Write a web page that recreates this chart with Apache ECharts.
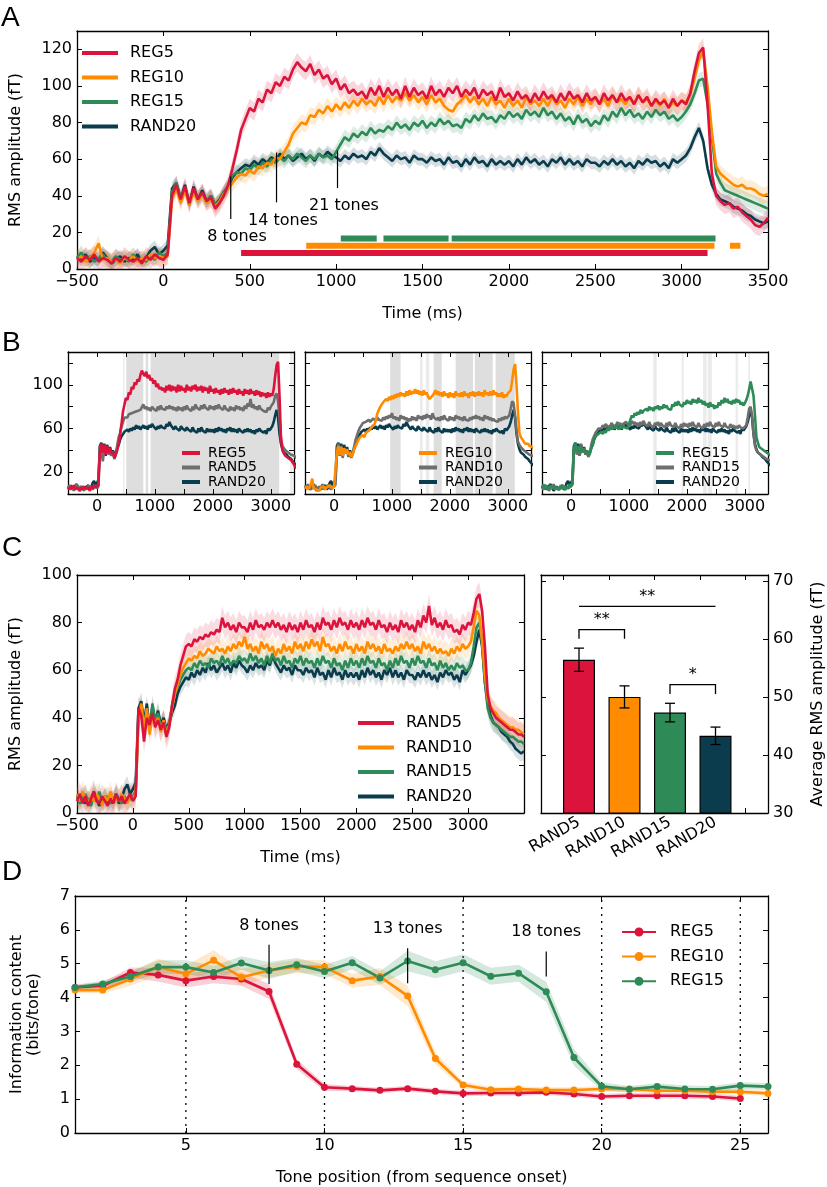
<!DOCTYPE html>
<html><head><meta charset="utf-8"><title>chart</title>
<script src="https://cdn.jsdelivr.net/npm/echarts@6.0.0/dist/echarts.min.js"></script>
<style>html,body{margin:0;padding:0;background:#fff;}#chart{width:827px;height:1187px;}</style>
</head><body><div id="chart"></div>
<script>
// ---------------- DATA ----------------
// time series sampled every 25 ms from -500 ms to 3500 ms (161 samples)
const T0 = -500, DT = 25;
const REG5 = [
 6,4,7,5,8,4,6,5,3,6,4,7,5,4,6,3,7,5,8,6,
 5,8,40,46,38,45,36,44,38,42,37,39,33,36,40,46,55,65,76,82,
 88,86,93,91,98,96,102,100,105,103,109,113,110,108,112,106,109,104,106,101,
 104,98,101,96,98,95,97,93,99,95,100,94,99,95,98,93,100,94,99,95,
 97,93,100,95,98,94,99,96,100,94,98,95,99,93,98,95,97,92,99,94,
 96,92,97,93,95,91,96,92,97,93,95,91,96,92,97,93,95,91,96,92,
 94,90,96,92,95,91,96,92,94,90,95,91,94,89,93,90,92,88,93,89,
 92,90,96,108,118,121,90,52,40,37,35,36,33,34,31,29,27,24,23,25,
 28];
const REG10 = [
 5,7,4,6,9,14,5,6,4,5,3,6,5,7,4,6,5,8,6,7,
 6,7,38,44,36,43,35,42,37,41,36,38,34,37,41,44,47,50,52,51,
 54,52,56,55,58,57,61,60,64,68,74,77,80,79,84,83,87,85,89,86,
 90,87,91,88,92,89,93,90,92,89,94,90,95,91,94,92,96,92,95,91,
 94,90,95,91,93,89,87,86,90,92,95,91,94,90,93,89,94,90,92,88,
 93,89,92,88,94,90,92,89,93,89,94,90,92,88,93,90,94,89,93,90,
 94,90,93,89,95,91,93,90,94,90,95,91,93,89,92,89,93,88,91,89,
 92,91,95,104,114,119,100,75,56,52,50,48,46,45,46,44,44,43,41,40,
 41];
const REG15 = [
 6,9,5,7,4,6,8,5,4,7,5,6,4,8,5,6,4,7,5,9,
 7,9,42,47,39,44,37,43,39,41,37,40,35,37,42,45,51,53,52,55,
 54,57,55,58,56,60,58,61,59,62,60,63,61,59,62,60,63,61,62,60,
 64,68,72,70,74,72,75,73,77,74,76,75,78,76,80,77,79,76,80,78,
 81,77,80,78,82,79,81,78,79,77,82,80,84,81,85,82,83,80,84,82,
 86,83,85,82,87,84,86,83,88,84,86,82,85,81,83,79,84,80,82,78,
 81,79,84,81,86,83,88,84,87,83,85,82,86,83,87,84,86,82,84,81,
 83,86,90,96,103,104,90,72,52,47,43,42,41,40,39,38,37,36,35,34,
 33];
const RAND20 = [
 7,5,8,4,6,5,9,6,3,5,7,4,6,5,8,4,6,10,12,8,
 10,13,44,47,38,46,35,45,38,43,37,40,35,38,42,45,50,53,55,57,
 56,59,57,60,58,61,59,63,60,62,59,61,63,60,62,59,63,61,64,62,
 61,59,62,60,63,61,62,60,64,62,66,63,61,59,62,60,61,58,62,60,
 60,58,61,59,60,57,61,58,59,56,60,57,61,58,59,56,60,57,59,57,
 59,56,60,57,61,58,60,57,59,56,60,58,61,57,60,57,59,56,60,58,
 58,56,59,57,60,57,59,56,58,55,59,57,60,58,59,56,58,55,60,58,
 60,62,66,72,77,70,55,46,41,38,37,36,34,33,32,30,29,27,26,25,
 26];
const RAND5 = [
 5,8,4,7,3,6,9,5,4,7,5,3,6,4,8,5,7,4,6,8,
 5,7,44,41,30,40,37,42,36,39,35,38,32,36,45,52,56,62,66,70,
 71,70,73,72,74,73,75,74,76,75,77,76,82,78,80,77,79,76,80,78,
 78,76,80,77,81,78,79,77,80,78,81,78,80,77,79,76,80,77,79,76,
 80,77,81,78,79,76,80,77,82,79,80,77,81,78,82,79,80,77,81,78,
 80,77,81,78,82,79,80,77,81,78,79,76,80,77,79,76,81,78,80,77,
 79,76,81,78,83,80,87,79,82,78,80,77,81,78,79,76,77,75,79,77,
 80,79,84,90,92,85,70,50,44,42,40,39,38,37,36,35,35,34,33,33,
 32];
const RAND10 = [
 8,5,9,6,4,7,5,8,6,3,7,5,9,4,6,5,8,6,4,7,
 6,8,38,46,35,44,33,41,37,40,34,39,33,37,44,50,54,58,61,63,
 65,64,66,65,68,66,67,69,68,67,70,68,69,67,70,68,71,69,72,70,
 74,69,71,68,70,67,72,69,71,68,70,66,69,67,71,68,70,67,72,69,
 71,68,72,69,73,70,72,68,74,70,71,68,70,67,71,68,72,69,70,67,
 71,68,70,67,72,69,71,68,70,67,71,68,69,67,70,68,71,69,72,69,
 71,68,70,67,72,69,71,68,70,67,69,67,68,66,69,67,70,68,71,69,
 70,72,78,85,83,72,58,48,45,43,42,40,39,38,37,36,36,35,35,34,
 33];
const RAND15 = [
 7,4,6,8,5,3,7,5,9,4,6,7,4,5,8,6,4,7,5,6,
 7,9,40,45,36,43,35,46,38,42,36,39,34,37,45,50,53,56,58,60,
 61,60,63,61,64,62,63,61,65,63,64,62,66,63,65,62,64,63,66,64,
 65,63,67,64,66,63,65,62,66,63,67,64,65,62,66,63,64,61,65,63,
 66,62,65,63,64,61,65,62,66,63,64,61,65,62,63,60,64,61,65,62,
 64,61,65,62,66,63,64,61,65,62,63,60,64,61,65,62,66,63,64,61,
 65,62,66,63,64,61,65,62,63,60,64,61,63,60,62,60,63,61,62,60,
 60,63,70,78,80,72,55,44,40,38,37,36,35,34,33,32,32,31,30,30,
 29];
// error band half-widths (fT), read from the shaded areas
const SEM = {REG5:5, REG10:4.5, REG15:4, RAND20:3.5, RAND5:5, RAND10:4.5, RAND15:4};

// panel A: significance bars [start ms, end ms] and tone markers
const A_SIG = [
  {name:'REG15', level:16.7, segs:[[1027,1235],[1274,1651],[1669,3196]]},
  {name:'REG10', level:12.7, segs:[[827,3190],[3280,3340]]},
  {name:'REG5',  level:8.7,  segs:[[450,3150]]}
];
const A_TONES = [
  {text:'8 tones',  t:390,  y0:27.3, y1:50.5, tt:426,  ty:17.6},
  {text:'14 tones', t:655,  y0:36.4, y1:63.6, tt:692,  ty:26.5},
  {text:'21 tones', t:1008, y0:44.2, y1:64.7, tt:1045, ty:34.7}
];
// panel B: shaded significance spans [start ms, end ms, shade]
const B_SPANS = [
  [[450,475,1],[505,800,0],[840,885,0],[925,3145,0],[3335,3375,1]],
  [[970,1150,0],[1485,1530,1],[1585,1645,1],[1720,1860,0],[2100,2400,0],[2430,2740,0],[2790,3120,0]],
  [[1420,1480,1],[1910,1945,1],[2280,2340,1],[2360,2430,1],[2840,2880,1],[3060,3090,1]]
];
// panel C bars
const BAR_CATS = ['RAND5','RAND10','RAND15','RAND20'];
const BAR_VALS = [56.4, 50.0, 47.3, 43.3];
const BAR_ERR  = [2.0, 1.9, 1.6, 1.5];
const BAR_SIG = [
  {from:0, to:3, y:65.6, leg:null, text:'**'},
  {from:0, to:1, y:61.6, leg:60.0, text:'**'},
  {from:2, to:3, y:52.1, leg:50.5, text:'*'}
];
// panel D
const D_POS = [1,2,3,4,5,6,7,8,9,10,11,12,13,14,15,16,17,18,19,20,21,22,23,24,25,26];
const D_REG5  = [4.30,4.35,4.74,4.67,4.50,4.62,4.55,4.18,2.03,1.35,1.31,1.26,1.31,1.23,1.17,1.18,1.18,1.20,1.15,1.08,1.10,1.10,1.10,1.08,1.02];
const D_REG10 = [4.22,4.22,4.55,4.90,4.70,5.10,4.60,4.80,4.92,4.90,4.50,4.62,4.05,2.20,1.42,1.28,1.30,1.27,1.27,1.30,1.30,1.25,1.25,1.22,1.22,1.17];
const D_REG15 = [4.30,4.40,4.62,4.90,4.90,4.74,5.02,4.80,4.97,4.77,5.03,4.58,5.08,4.82,5.03,4.63,4.72,4.17,2.23,1.38,1.29,1.37,1.30,1.29,1.40,1.37];
const D_ERR5  = [0.08,0.1,0.15,0.2,0.2,0.2,0.2,0.22,0.15,0.1,0.08,0.08,0.08,0.08,0.08,0.08,0.08,0.08,0.08,0.08,0.08,0.08,0.08,0.08,0.08];
const D_ERR10 = [0.08,0.1,0.2,0.25,0.25,0.3,0.25,0.2,0.2,0.2,0.2,0.25,0.3,0.18,0.1,0.08,0.08,0.08,0.08,0.08,0.08,0.08,0.08,0.08,0.08,0.08];
const D_ERR15 = [0.08,0.1,0.15,0.2,0.2,0.2,0.2,0.25,0.2,0.2,0.2,0.2,0.3,0.25,0.25,0.25,0.25,0.3,0.25,0.12,0.1,0.1,0.1,0.1,0.1,0.1];
const D_VLINES = [5,10,15,20,25];
const D_TONES = [
  {text:'8 tones',  x:8,  y0:4.40, y1:5.56, ty:6.12},
  {text:'13 tones', x:13, y0:4.42, y1:5.46, ty:6.03},
  {text:'18 tones', x:18, y0:4.62, y1:5.36, ty:5.93}
];
// tick values
const A_XTICKS = [-500,0,500,1000,1500,2000,2500,3000,3500];
const A_YTICKS = [0,20,40,60,80,100,120];
const B_XTICKS = [-500,0,500,1000,1500,2000,2500,3000];
const B_XLABELS = [0,1000,2000,3000];
const B_YTICKS = [20,40,60,80,100,120];
const B_YLABELS = [20,60,100];
const C_XTICKS = [-500,0,500,1000,1500,2000,2500,3000];
const C_YTICKS = [0,20,40,60,80,100];
const BAR_YTICKS = [30,40,50,60,70];
const BAR_XTICKS = [0,1,2,3,4];
const D_XTICKS = [5,10,15,20,25];
const D_YTICKS = [0,1,2,3,4,5,6,7];

const TIMES = REG5.map((_, i) => T0 + i * DT);

// ---------------- STYLE / BUILD ----------------
const COL = {REG5:'#dc143c', REG10:'#ff8c00', REG15:'#2e8b57', RAND20:'#0b3c4d',
             RAND5:'#dc143c', RAND10:'#ff8c00', RAND15:'#2e8b57', gray:'#6e6e6e'};
const FONT = 'DejaVu Sans';
const nameStyle = {color:'#000', fontFamily:FONT, fontSize:16};
const grids=[], xAxes=[], yAxes=[], series=[], legends=[];
function fmt(v){ return v<0 ? '\u2212'+Math.abs(v) : String(v); }
function grid(l,t,w,h){ grids.push({left:l,top:t,width:w,height:h,show:false}); return grids.length-1; }
function vAxis(g,pos,min,max,ticks,labels,extra){
  const ax = {type:'value', gridIndex:g, position:pos, min:min, max:max,
    axisLine:{show:true, onZero:false, lineStyle:{color:'#000', width:1.3}},
    axisTick:{show:true, inside:true, length:5, lineStyle:{color:'#000', width:1}, customValues:ticks},
    axisLabel: labels ? {show:true, customValues:labels, margin:5, color:'#000', fontFamily:FONT, fontSize:16, formatter:fmt} : {show:false},
    splitLine:{show:false}};
  return Object.assign(ax, extra||{});
}
function addX(a){ xAxes.push(a); return xAxes.length-1; }
function addY(a){ yAxes.push(a); return yAxes.length-1; }
function band(xi,yi,xs,vals,errs,color,alpha){
  return {type:'custom', xAxisIndex:xi, yAxisIndex:yi, clip:true, silent:true, z:1,
    data:[[xs[0], vals[0]]],
    renderItem:(p,api)=>{
      const up=[], lo=[];
      for(let i=0;i<vals.length;i++){
        const e = Array.isArray(errs)?errs[i]:errs;
        up.push(api.coord([xs[i], vals[i]+e])); lo.push(api.coord([xs[i], vals[i]-e]));
      }
      return {type:'polygon', shape:{points:up.concat(lo.reverse())}, style:{fill:color, opacity:alpha}};
    }};
}
function line(name,xi,yi,vals,color,w){
  return {type:'line', name:name, xAxisIndex:xi, yAxisIndex:yi, data:vals.map((v,i)=>[TIMES[i],v]),
    showSymbol:false, symbol:'none', lineStyle:{color:color, width:w}, itemStyle:{color:color}, clip:true, silent:true, z:3};
}
function legend(names, colors, left, top, o){
  legends.push(Object.assign({show:true, orient:'vertical', left:left, top:top, padding:0, selectedMode:false,
    icon:'rect', itemWidth:36, itemHeight:4, itemGap:8.5,
    textStyle:{color:'#000', fontFamily:FONT, fontSize:16, lineHeight:16, padding:[0,0,0,7]},
    data:names.map((n,i)=>({name:n, itemStyle:{color:colors[i]}, lineStyle:{color:colors[i]}}))}, o||{}));
}

// ----- Panel A -----
const gA = grid(68,31,700,238);
const xA = addX(vAxis(gA,'bottom',-500,3500,A_XTICKS,A_XTICKS,{name:'Time (ms)',nameLocation:'middle',nameGap:37,nameTextStyle:nameStyle}));
addX(vAxis(gA,'top',-500,3500,A_XTICKS,null));
const yA = addY(vAxis(gA,'left',0,130,A_YTICKS,A_YTICKS,{name:'RMS amplitude (fT)',nameLocation:'middle',nameGap:53,nameRotate:90,nameTextStyle:nameStyle}));
addY(vAxis(gA,'right',0,130,A_YTICKS,null));
const A_LIST = [['RAND20',RAND20],['REG15',REG15],['REG10',REG10],['REG5',REG5]];
A_LIST.forEach(([n,v])=>series.push(band(xA,yA,TIMES,v,SEM[n],COL[n],0.17)));
A_LIST.forEach(([n,v])=>series.push(line(n,xA,yA,v,COL[n],2.6)));
const sigData=[];
A_SIG.forEach(s=>s.segs.forEach(sg=>sigData.push([sg[0],s.level,sg[1],COL[s.name]])));
series.push({type:'custom', xAxisIndex:xA, yAxisIndex:yA, silent:true, z:4,
  data:sigData.map(d=>[d[0],d[1],d[2]]),
  renderItem:(p,api)=>{
    const a=api.coord([api.value(0),api.value(1)]), b=api.coord([api.value(2),api.value(1)]);
    return {type:'rect', shape:{x:a[0], y:a[1]-3, width:b[0]-a[0], height:6}, style:{fill:sigData[p.dataIndex][3]}};
  }});
series.push({type:'custom', xAxisIndex:xA, yAxisIndex:yA, silent:true, z:5,
  data:A_TONES.map(d=>[d.t,d.y0,d.y1,d.tt,d.ty]),
  renderItem:(p,api)=>{
    const a=api.coord([api.value(0),api.value(1)]), b=api.coord([api.value(0),api.value(2)]);
    const c=api.coord([api.value(3),api.value(4)]);
    return {type:'group', children:[
      {type:'line', shape:{x1:a[0],y1:a[1],x2:b[0],y2:b[1]}, style:{stroke:'#000', lineWidth:1.2}},
      {type:'text', x:c[0], y:c[1], style:{text:A_TONES[p.dataIndex].text, fill:'#000', font:'16px "DejaVu Sans"', textAlign:'center', textVerticalAlign:'middle'}}
    ]};
  }});
legend(['REG5','REG10','REG15','RAND20'],[COL.REG5,COL.REG10,COL.REG15,COL.RAND20],82,45);

// ----- Panel B -----
const B_LEFT=[68,305,542];
const B_SETS=[['REG5','RAND5',REG5,RAND5],['REG10','RAND10',REG10,RAND10],['REG15','RAND15',REG15,RAND15]];
B_SETS.forEach((s,k)=>{
  const g=grid(B_LEFT[k],352,226,142);
  const xi=addX(vAxis(g,'bottom',-500,3400,B_XTICKS,B_XLABELS));
  addX(vAxis(g,'top',-500,3400,B_XTICKS,null));
  const yi=addY(vAxis(g,'left',0,130,B_YTICKS,k===0?B_YLABELS:null));
  addY(vAxis(g,'right',0,130,B_YTICKS,null));
  const spans=B_SPANS[k];
  series.push({type:'custom', xAxisIndex:xi, yAxisIndex:yi, silent:true, clip:true, z:0,
    data:spans.map(sp=>[sp[0],sp[1],sp[2]]),
    renderItem:(p,api)=>{
      const a=api.coord([api.value(0),130]), b=api.coord([api.value(1),0]);
      return {type:'rect', shape:{x:a[0],y:a[1],width:b[0]-a[0],height:b[1]-a[1]}, style:{fill: api.value(2)?'#ebebeb':'#dedede'}};
    }});
  series.push(line('RAND20',xi,yi,RAND20,COL.RAND20,2.6));
  series.push(line(s[1],xi,yi,s[3],COL.gray,2.6));
  series.push(line(s[0],xi,yi,s[2],COL[s[0]],2.6));
  legend([s[0],s[1],'RAND20'],[COL[s[0]],COL.gray,COL.RAND20],B_LEFT[k]+114,446,
    {itemWidth:18, itemHeight:4, itemGap:0.5, textStyle:{color:'#000',fontFamily:FONT,fontSize:14,lineHeight:14,padding:[0,0,0,3]}});
});

// ----- Panel C (lines) -----
const gC=grid(68,575,456,238);
const xC=addX(vAxis(gC,'bottom',-500,3500,C_XTICKS,C_XTICKS,{name:'Time (ms)',nameLocation:'middle',nameGap:37,nameTextStyle:nameStyle}));
addX(vAxis(gC,'top',-500,3500,C_XTICKS,null));
const yC=addY(vAxis(gC,'left',0,100,C_YTICKS,C_YTICKS,{name:'RMS amplitude (fT)',nameLocation:'middle',nameGap:53,nameRotate:90,nameTextStyle:nameStyle}));
addY(vAxis(gC,'right',0,100,C_YTICKS,null));
const C_LIST=[['RAND20',RAND20],['RAND15',RAND15],['RAND10',RAND10],['RAND5',RAND5]];
C_LIST.forEach(([n,v])=>series.push(band(xC,yC,TIMES,v,SEM[n],COL[n],0.15)));
C_LIST.forEach(([n,v])=>series.push(line(n,xC,yC,v,COL[n],2.6)));
legend(['RAND5','RAND10','RAND15','RAND20'],[COL.RAND5,COL.RAND10,COL.RAND15,COL.RAND20],358,715);

// ----- Panel C (bars) -----
const gF=grid(541,575,227,238);
addX(vAxis(gF,'bottom',-0.5,4.5,BAR_XTICKS,null));
addX(vAxis(gF,'top',-0.5,4.5,BAR_XTICKS,null));
addY(vAxis(gF,'left',30,71,BAR_YTICKS,null));
addY(vAxis(gF,'right',30,71,BAR_YTICKS,BAR_YTICKS,{name:'Average RMS amplitude (fT)',nameLocation:'middle',nameGap:42,nameRotate:90,nameTextStyle:nameStyle}));
const gBI=grid(556.25,575,182,238);
const xBI=addX({type:'category', gridIndex:gBI, data:BAR_CATS, position:'bottom',
  axisLine:{show:false}, axisTick:{show:false},
  axisLabel:{rotate:30, margin:8, interval:0, color:'#000', fontFamily:FONT, fontSize:16}});
const yBI=addY({type:'value', gridIndex:gBI, min:30, max:71, show:false});
const BAR_COLORS=[COL.RAND5,COL.RAND10,COL.RAND15,COL.RAND20];
series.push({type:'bar', xAxisIndex:xBI, yAxisIndex:yBI, barWidth:32, clip:true, silent:true, z:2,
  data:BAR_VALS.map((v,i)=>({value:v, itemStyle:{color:BAR_COLORS[i], borderColor:'#000', borderWidth:1.2}}))});
series.push({type:'custom', xAxisIndex:xBI, yAxisIndex:yBI, silent:true, z:5,
  data:BAR_VALS.map((v,i)=>[i, v-BAR_ERR[i], v+BAR_ERR[i]]),
  renderItem:(p,api)=>{
    const lo=api.coord([api.value(0),api.value(1)]), hi=api.coord([api.value(0),api.value(2)]);
    const st={stroke:'#000', lineWidth:1.3};
    return {type:'group', children:[
      {type:'line', shape:{x1:lo[0],y1:lo[1],x2:hi[0],y2:hi[1]}, style:st},
      {type:'line', shape:{x1:lo[0]-5,y1:lo[1],x2:lo[0]+5,y2:lo[1]}, style:st},
      {type:'line', shape:{x1:hi[0]-5,y1:hi[1],x2:hi[0]+5,y2:hi[1]}, style:st}
    ]};
  }});
series.push({type:'custom', xAxisIndex:xBI, yAxisIndex:yBI, silent:true, z:5,
  data:BAR_SIG.map(s=>[s.from, s.y, s.to, s.leg==null?s.y:s.leg]),
  renderItem:(p,api)=>{
    const a=api.coord([api.value(0),api.value(1)]), b=api.coord([api.value(2),api.value(1)]);
    const la=api.coord([api.value(0),api.value(3)]), lb=api.coord([api.value(2),api.value(3)]);
    const st={stroke:'#000', lineWidth:1.3, fill:null};
    return {type:'group', children:[
      {type:'polyline', shape:{points:[[la[0],la[1]],[a[0],a[1]],[b[0],b[1]],[lb[0],lb[1]]]}, style:st},
      {type:'text', x:(a[0]+b[0])/2, y:a[1]-2, style:{text:BAR_SIG[p.dataIndex].text, fill:'#000', font:'16px "DejaVu Sans"', textAlign:'center', textVerticalAlign:'bottom'}}
    ]};
  }});

// ----- Panel D -----
const gD=grid(68,896,700,239);
const xD=addX(vAxis(gD,'bottom',1,26,D_XTICKS,D_XTICKS,{name:'Tone position (from sequence onset)',nameLocation:'middle',nameGap:37,nameTextStyle:nameStyle}));
addX(vAxis(gD,'top',1,26,D_XTICKS,null));
const yD=addY(vAxis(gD,'left',0,7,D_YTICKS,D_YTICKS,{name:'Information content\n(bits/tone)',nameLocation:'middle',nameGap:33,nameRotate:90,nameTextStyle:Object.assign({lineHeight:17},nameStyle)}));
addY(vAxis(gD,'right',0,7,D_YTICKS,null));
series.push({type:'custom', xAxisIndex:xD, yAxisIndex:yD, silent:true, z:1,
  data:D_VLINES.map(x=>[x,0]),
  renderItem:(p,api)=>{
    const a=api.coord([api.value(0),0]), b=api.coord([api.value(0),7]);
    return {type:'line', shape:{x1:a[0],y1:a[1],x2:b[0],y2:b[1]}, style:{stroke:'#000', lineWidth:1.3, lineDash:[2,5]}};
  }});
const D_LIST=[['REG5',D_REG5,D_ERR5],['REG10',D_REG10,D_ERR10],['REG15',D_REG15,D_ERR15]];
D_LIST.forEach(([n,v,e])=>series.push(band(xD,yD,D_POS,v,e,COL[n],0.2)));
D_LIST.forEach(([n,v])=>series.push({type:'line', name:n, xAxisIndex:xD, yAxisIndex:yD,
  data:v.map((y,i)=>[D_POS[i],y]), symbol:'circle', symbolSize:7, showSymbol:true,
  lineStyle:{color:COL[n], width:2.6}, itemStyle:{color:COL[n]}, silent:true, z:4}));
series.push({type:'custom', xAxisIndex:xD, yAxisIndex:yD, silent:true, z:5,
  data:D_TONES.map(d=>[d.x,d.y0,d.y1,d.ty]),
  renderItem:(p,api)=>{
    const a=api.coord([api.value(0),api.value(1)]), b=api.coord([api.value(0),api.value(2)]);
    const c=api.coord([api.value(0),api.value(3)]);
    return {type:'group', children:[
      {type:'line', shape:{x1:a[0],y1:a[1],x2:b[0],y2:b[1]}, style:{stroke:'#000', lineWidth:1.2}},
      {type:'text', x:c[0], y:c[1], style:{text:D_TONES[p.dataIndex].text, fill:'#000', font:'16px "DejaVu Sans"', textAlign:'center', textVerticalAlign:'middle'}}
    ]};
  }});
legend(['REG5','REG10','REG15'],[COL.REG5,COL.REG10,COL.REG15],622,924,
  {icon:'path://M0,4 L34,4 L34,6 L0,6 Z M12.5,5 A4.5,4.5 0 1,1 21.5,5 A4.5,4.5 0 1,1 12.5,5 Z', itemWidth:34, itemHeight:9, itemGap:8.6, textStyle:{color:'#000',fontFamily:FONT,fontSize:16,lineHeight:16,padding:[0,0,0,9]}});

// ---------------- CHART ----------------
const chart = echarts.init(document.getElementById('chart'), null, {renderer:'canvas'});
chart.setOption({
  backgroundColor:'#fff', animation:false,
  textStyle:{fontFamily:FONT},
  grid:grids, xAxis:xAxes, yAxis:yAxes, series:series, legend:legends,
  graphic:[
    {type:'text', left:1, top:4, style:{text:'A', font:'28px "Liberation Sans"', fill:'#000'}},
    {type:'text', left:2, top:329, style:{text:'B', font:'28px "Liberation Sans"', fill:'#000'}},
    {type:'text', left:2, top:534, style:{text:'C', font:'28px "Liberation Sans"', fill:'#000'}},
    {type:'text', left:2, top:858, style:{text:'D', font:'28px "Liberation Sans"', fill:'#000'}}
  ]
});
</script></body></html>
